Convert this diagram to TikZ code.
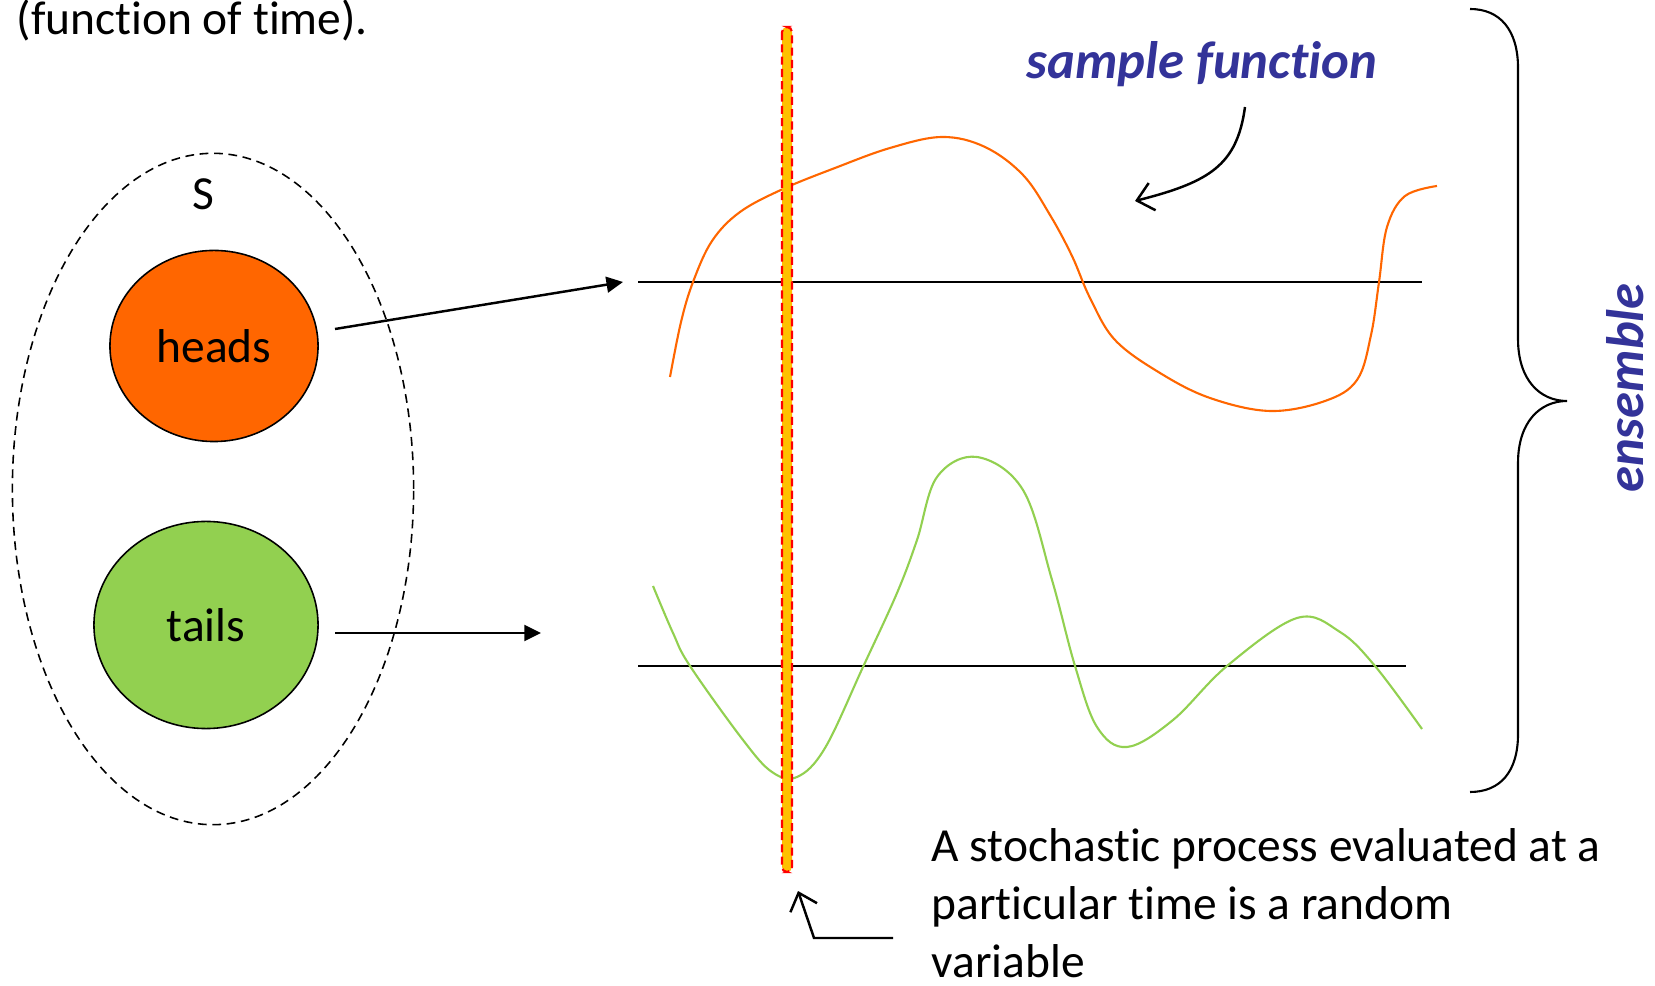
\documentclass[tikz,border=0pt]{standalone}
\usepackage{fontspec}
\setmainfont{Carlito}[Ligatures=NoCommon]
\usetikzlibrary{shapes.geometric,arrows.meta}

\definecolor{headsorange}{RGB}{255,102,0}
\definecolor{tailsgreen}{RGB}{146,208,80}
\definecolor{labelblue}{RGB}{51,51,153}
\definecolor{markyellow}{RGB}{255,192,0}

\begin{document}
\begin{tikzpicture}[x=0.01cm, y=-0.01cm,
	txt/.style={font=\fontsize{13.5}{16.4}\selectfont, inner sep=0pt},
	bluelabel/.style={font=\fontsize{15}{18}\selectfont\bfseries\itshape, text=labelblue, inner sep=0pt},
	outcome/.style={ellipse, draw, line width=0.45pt, inner sep=0pt, font=\fontsize{13.5}{16.4}\selectfont},
	samplepath/.style={line width=0.6pt},
	axisline/.style={line width=0.75pt},
	maparrow/.style={line width=0.7pt, -{Triangle[length=4.7pt,width=4.5pt]}},
	notearrow/.style={line width=0.7pt, -{Straight Barb[length=4.5pt,width=8pt]}}]
	\useasboundingbox (0,0) rectangle (1655,986);
	
	% Sample space
	\node[txt, anchor=base west] (caption) at (16,35) {(function of time).};
	\node[ellipse, draw, dashed, dash pattern=on 2.5pt off 1.6pt, line width=0.45pt,
		minimum width=4.01cm, minimum height=6.71cm] (sset) at (213,489) {};
	\node[txt] (slabel) at (203,194) {S};
	\node[outcome, fill=headsorange, minimum width=2.08cm, minimum height=1.91cm] (heads) at (214,346) {heads};
	\node[outcome, fill=tailsgreen, minimum width=2.24cm, minimum height=2.07cm] (tails) at (206,625) {tails};
	
	% Define coordinates
	\coordinate (h0) at (335,329);
	\coordinate (h1) at (623,282);
	\coordinate (t0) at (335,633);
	\coordinate (t1) at (541,633);
	\coordinate (a0) at (638,282);
	\coordinate (a1) at (1422,282);
	\coordinate (b0) at (638,666);
	\coordinate (b1) at (1406,666);
	
	\draw[maparrow] (h0) -- (h1);
	\draw[maparrow] (t0) -- (t1);
	
	% Draw the axes
	\draw[axisline] (a0) -- (a1);
	\draw[axisline] (b0) -- (b1);
	
	% Sample functions
	\draw[samplepath, headsorange] plot[smooth, tension=0.6] coordinates {
		(670,377) (681,322) (693,282) (712,241) (740,212) (783,189)
		(835,168) (890,148) (942,137) (985,147) (1023,175) (1050,215) (1072,256)
		(1090,298) (1115,340) (1160,373) (1210,398) (1270,411) (1325,401)
		(1357,380) (1371,335) (1379,282) (1387,227) (1405,196) (1437,186)};
	\draw[samplepath, tailsgreen] plot[smooth, tension=0.6] coordinates {
		(653,586) (673,633) (690,666) (743,740) (772,772) (797,777)
		(825,748) (863,667) (897,593) (917,540) (937,477) (977,457) (1023,490)
		(1052,580) (1075,666) (1097,727) (1127,747) (1173,720) (1227,666)
		(1297,618) (1340,632) (1375,666) (1422,729)};
	
	% Fixed time
	\draw[fill=markyellow, draw=red, line width=0.6pt, dash pattern=on 2.3pt off 1.2pt,
		rounded corners=0.05cm] (782,27) rectangle (792,872);
	
	% Labels
	\node[bluelabel, anchor=base] (sfun) at (1202,79) {sample function};
	\coordinate (s0) at (1245,107);
	\coordinate (s1) at (1135,201);
	\draw[notearrow] (s0) .. controls (1237,165) and (1210,182) .. (s1);
	
	\draw[line width=0.6pt] (1470,9) .. controls (1500,9) and (1518,30) .. (1518,68)
		-- (1518,339) .. controls (1518,380) and (1540,401) .. (1567,401)
		.. controls (1540,401) and (1518,422) .. (1518,463)
		-- (1518,734) .. controls (1518,772) and (1500,792) .. (1470,792);
	\node[bluelabel, anchor=base, rotate=90] (ens) at (1643,388) {ensemble};
	
	\node[txt, anchor=base west, align=left] (note) at (931,977)
		{A stochastic process evaluated at a\\particular time is a random\\variable};
	\coordinate (n0) at (893,938);
	\coordinate (n1) at (814,938);
	\coordinate (n2) at (798,891);
	\draw[notearrow] (n0) -- (n1) -- (n2);
\end{tikzpicture}
\end{document}
